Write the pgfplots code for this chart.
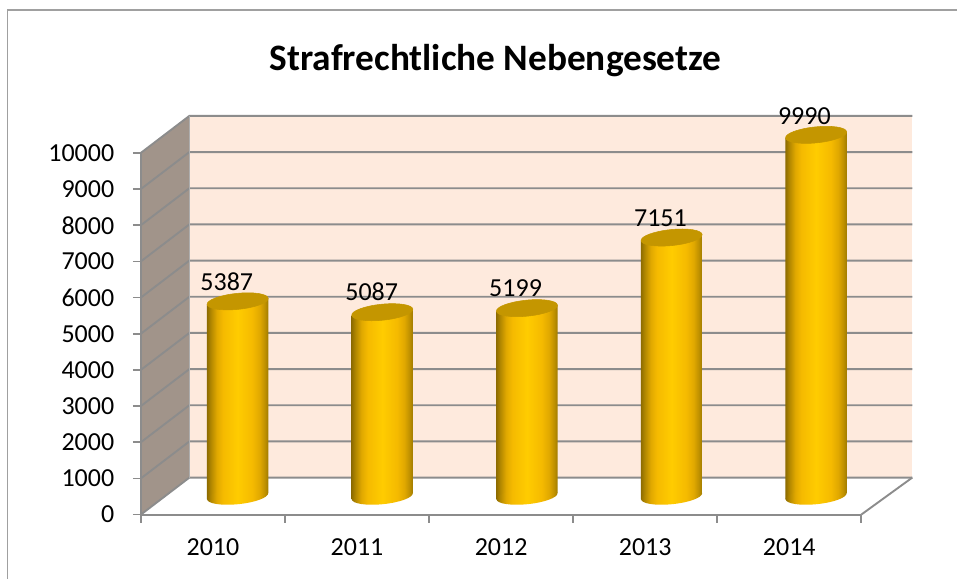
\documentclass[border=0pt]{standalone}
\usepackage{pgfplots}
\pgfplotsset{compat=1.18}
\usepackage{fontspec}
\setmainfont{Carlito}
\definecolor{gl}{HTML}{8C8C8C}
\definecolor{wallb}{HTML}{FEEADD}
\definecolor{walls}{HTML}{A1948A}
\definecolor{frm}{HTML}{A0A0A0}
\definecolor{ca}{HTML}{8E6C00}
\definecolor{cb}{HTML}{B08600}
\definecolor{cc}{HTML}{E0A800}
\definecolor{cd}{HTML}{FFCC00}
\definecolor{ce}{HTML}{F5BA00}
\definecolor{cf}{HTML}{C09100}
\definecolor{cg}{HTML}{A07C00}
\definecolor{ctop}{HTML}{C49600}
\pgfdeclarehorizontalshading{cyl}{100bp}{
 color(0bp)=(ca);
 color(25bp)=(ca);
 color(28bp)=(cb);
 color(33bp)=(cc);
 color(38bp)=(ce);
 color(50bp)=(cd);
 color(62bp)=(ce);
 color(68bp)=(cc);
 color(72bp)=(cf);
 color(75bp)=(cg);
 color(100bp)=(cg)}
\def\pxu{0.75pt}
\pgfdeclareplotmark{cylbot}{\pgftransformrotate{5.8}\shade[shading=cyl,draw=none] (canvas cs:x=0pt,y=0pt) ellipse [x radius=30.7*\pxu, y radius=8*\pxu];}
\pgfdeclareplotmark{cyltop}{\pgftransformrotate{5.8}\fill[ctop] (canvas cs:x=0pt,y=0pt) ellipse [x radius=30.7*\pxu, y radius=8*\pxu];}
\pgfplotsset{cylbar/.style={ybar, bar width=61.4*\pxu, bar shift=0pt, draw=none, shade, shading=cyl, yshift=#1*\pxu, yslant=0.1016}}
\begin{document}
\begin{tikzpicture}
\begin{scope}[x=\pxu,y=-\pxu]
 \fill[white] (0,0) rectangle (958,579);
 \draw[frm,line width=1.6*\pxu] (7.5,579) -- (7.5,10) -- (958,10);
 \fill[wallb] (189.5,116) rectangle (913,478);
 \fill[walls] (141,153) -- (189.5,116) -- (189.5,478) -- (141,515) -- cycle;
 \foreach \yy in {153,189.2,225.4,261.6,297.8,334,370.2,406.4,442.6,478.8,515}{
   \draw[gl,line width=1.9*\pxu] (141,\yy) -- (189.5,\yy-37) -- (913,\yy-37);
 }
 \draw[gl,line width=1.9*\pxu] (862,515) -- (913,478);
 \draw[gl!70,line width=1*\pxu] (189.5,116) -- (189.5,478);
\end{scope}
\begin{axis}[
  at={(141*\pxu,-515*\pxu)}, anchor=south west,
  scale only axis, width=721*\pxu, height=362*\pxu,
  xmin=-0.6664, xmax=4.3336, ymin=0, ymax=10000,
  axis x line*=bottom, axis y line*=left,
  axis line style={gl,line width=2*\pxu,-},
  x tick label as interval,
  xtick={-0.6664,0.3336,1.3336,2.3336,3.3336,4.3336},
  xticklabels={2010,2011,2012,2013,2014},
  ytick={0,1000,...,10000},
  tick align=outside,
  major tick length=8*\pxu,
  tick style={gl,line width=1.7*\pxu},
  scaled y ticks=false,
  /pgf/number format/assume math mode=true,
  /pgf/number format/set thousands separator={},
  tick label style={font=\fontsize{19.5}{22}\selectfont,text=black},
  yticklabel style={xshift=-14*\pxu},
  xticklabel style={yshift=-11*\pxu},
  clip=false,
]
\addplot[only marks, mark=cylbot, yshift=18.4*\pxu] coordinates {(0.005,0)(1.009,0)(2.013,0)(3.017,0)(4.02,0)};
\addplot[cylbar=8.57] coordinates {(0.005,5387)};
\addplot[cylbar=-6.15] coordinates {(1.009,5087)};
\addplot[cylbar=-20.86] coordinates {(2.013,5199)};
\addplot[cylbar=-35.57] coordinates {(3.017,7151)};
\addplot[cylbar=-50.26] coordinates {(4.02,9990)};
\addplot[only marks, mark=cyltop, yshift=18.4*\pxu]
  coordinates {(0.005,5387)(1.009,5087)(2.013,5199)(3.017,7151)(4.02,9990)};
\end{axis}
\begin{scope}[x=\pxu,y=-\pxu,every node/.style={font=\fontsize{19.5}{22}\selectfont,text=black}]
 \node at (227,282) {5387};
 \node at (372,292) {5087};
 \node at (516,288) {5199};
 \node at (661,218) {7151};
 \node at (805,116) {9990};
 \node[font=\fontsize{28}{34}\selectfont\bfseries] at (496,61) {Strafrechtliche Nebengesetze};
\end{scope}
\end{tikzpicture}
\end{document}
